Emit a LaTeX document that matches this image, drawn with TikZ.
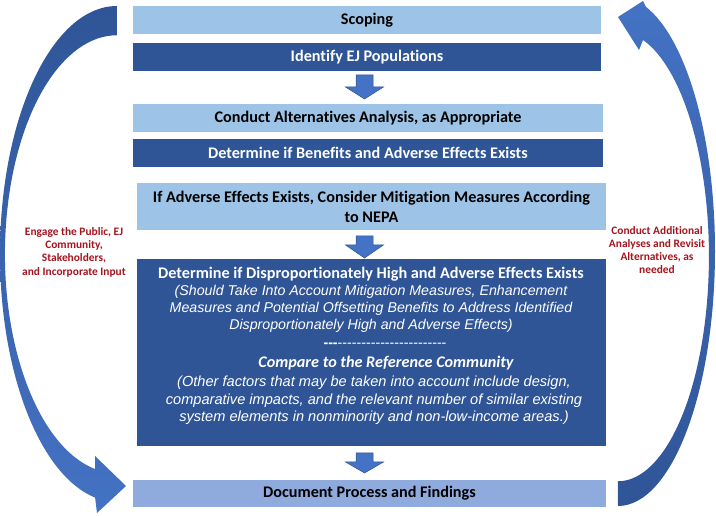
\documentclass[tikz,border=0pt]{standalone}
\usepackage{fontspec}
\setmainfont{Carlito}[Ligatures=NoCommon]
\newfontfamily\arialf{Liberation Sans}
\definecolor{lightb}{HTML}{9DC3E6}
\definecolor{darkb}{HTML}{2F5597}
\definecolor{docb}{HTML}{8FAADC}
\definecolor{arrb}{HTML}{4472C4}
\definecolor{arredge}{HTML}{2F528F}
\definecolor{labred}{HTML}{A5141E}
\newcommand\hyph{-\kern0pt}
\begin{document}
\begin{tikzpicture}[x=1pt,y=1pt,
  box/.style={rectangle, inner sep=0pt, align=center, font=\fontsize{16.2}{20}\selectfont\bfseries},
  lightbox/.style={box, fill=lightb, text=black},
  darkbox/.style={box, fill=darkb, text=white},
  docbox/.style={box, fill=docb, text=black},
  boxtext/.style={inner sep=0pt, align=center, text=white},
  sidelabel/.style={inner sep=0pt, align=center, text=labred, font=\fontsize{11.4}{13.3}\selectfont\bfseries},
  blockarrow/.style={fill=arrb, draw=arredge, line width=0.5pt}]
\useasboundingbox (0,0) rectangle (716,516);

% curved side arrows
\shade[top color=darkb, bottom color=arrb]
  (117,510) arc[start angle=90,end angle=259.2,x radius=117,y radius=248]
  -- (97,3) -- (126,30) -- (95,60) -- (95,47)
  arc[start angle=258.7,end angle=90,x radius=112,y radius=219] -- cycle;
\shade[top color=arrb, bottom color=darkb]
  (618,10) arc[start angle=-90,end angle=73.2,x radius=97,y radius=255]
  -- (643,515) -- (618,499) -- (639,466) -- (643,476)
  arc[start angle=74,end angle=-90,x radius=91,y radius=225] -- cycle;

% boxes
\node[lightbox, minimum width=468, minimum height=28] (scoping) at (367,496) {Scoping};
\node[darkbox, minimum width=468, minimum height=28] (identify) at (367,459) {Identify EJ Populations};
\node[lightbox, minimum width=470, minimum height=28] (conduct) at (368,398) {Conduct Alternatives Analysis, as Appropriate};
\node[darkbox, minimum width=470, minimum height=28] (benefits) at (368,363) {Determine if Benefits and Adverse Effects Exists};
\node[lightbox, minimum width=469, minimum height=47] (mitig) at (371.5,309.5) {If Adverse Effects Exists, Consider Mitigation Measures According\\to NEPA};
\node[darkbox, minimum width=469, minimum height=187] (disprop) at (371.5,163.5) {};
\node[docbox, minimum width=473, minimum height=27] (document) at (369.5,22.5) {Document Process and Findings};

% text in the large box
\node[boxtext, font=\fontsize{16.2}{18}\selectfont\bfseries] (dtitle) at (371,242) {Determine if Disproportionately High and Adverse Effects Exists};
\node[boxtext, font=\arialf\itshape\fontsize{14.2}{17}\selectfont] (dital) at (371,207) {(Should Take Into Account Mitigation Measures, Enhancement\\Measures and Potential Offsetting Benefits to Address Identified\\Disproportionately High and Adverse Effects)};
\node[boxtext, font=\arialf\fontsize{14.2}{16}\selectfont] (dashes) at (385,171) {\textbf{\hyph\hyph\hyph}\hyph\hyph\hyph\hyph\hyph\hyph\hyph\hyph\hyph\hyph\hyph\hyph\hyph\hyph\hyph\hyph\hyph\hyph\hyph\hyph\hyph\hyph\hyph};
\node[boxtext, font=\fontsize{16.2}{18}\selectfont\bfseries\itshape] (compare) at (386,153) {Compare to the Reference Community};
\node[boxtext, font=\arialf\itshape\fontsize{14.6}{17.5}\selectfont] (other) at (374,115.5) {(Other factors that may be taken into account include design,\\comparative impacts, and the relevant number of similar existing\\system elements in nonminority and non-low-income areas.)};

% side labels
\node[sidelabel] (leftlab) at (74,264) {Engage the Public, EJ\\Community,\\Stakeholders,\\and Incorporate Input};
\node[sidelabel] (rightlab) at (657,266) {Conduct Additional\\Analyses and Revisit\\Alternatives, as\\needed};

% block arrows
\filldraw[blockarrow] (356,441) -- (373,441) -- (373,429) -- (383.5,429) -- (364.5,417) -- (345.5,429) -- (356,429) -- cycle;
\filldraw[blockarrow] (356,280) -- (373,280) -- (373,271) -- (383.5,271) -- (364.5,258) -- (345.5,271) -- (356,271) -- cycle;
\filldraw[blockarrow] (356,63) -- (373,63) -- (373,54) -- (383.5,54) -- (364.5,43) -- (345.5,54) -- (356,54) -- cycle;
\end{tikzpicture}
\end{document}
